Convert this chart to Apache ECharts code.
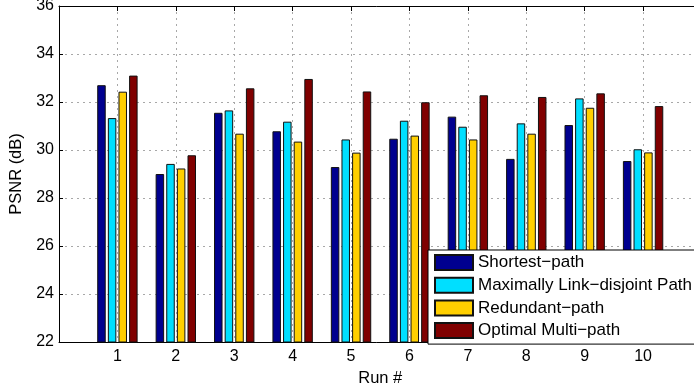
<!DOCTYPE html>
<html>
<head>
<meta charset="utf-8">
<title>PSNR per run</title>
<script src="https://cdn.jsdelivr.net/npm/echarts@6/dist/echarts.min.js"></script>
<style>
  html, body { margin: 0; padding: 0; background: #fff; overflow: hidden; }
  #chart { width: 694px; height: 387px; }
</style>
</head>
<body>
<div id="chart"></div>
<script>
// Run numbers on the x axis
const runs = [1, 2, 3, 4, 5, 6, 7, 8, 9, 10];

// PSNR (dB) per run for each routing scheme
const shortestPath   = [32.7, 29.0, 31.55, 30.78, 29.29, 30.47, 31.39, 29.63, 31.04, 29.54];
const linkDisjoint   = [31.33, 29.42, 31.65, 31.18, 30.44, 31.22, 30.97, 31.11, 32.15, 30.03];
const redundantPath  = [32.43, 29.23, 30.68, 30.35, 29.89, 30.6, 30.44, 30.68, 31.76, 29.9];
const optimalMulti   = [33.1, 29.78, 32.57, 32.96, 32.44, 31.99, 32.28, 32.21, 32.36, 31.83];

const seriesNames = [
  'Shortest\u2212path',
  'Maximally Link\u2212disjoint Path',
  'Redundant\u2212path',
  'Optimal Multi\u2212path'
];
const seriesColors = ['#00008f', '#00dfff', '#ffcf00', '#800000'];
const seriesValues = [shortestPath, linkDisjoint, redundantPath, optimalMulti];

// y-axis ticks
const yMin = 22, yMax = 36, yStep = 2;

const FONT = '"Liberation Sans", Arial, Helvetica, sans-serif';

const chart = echarts.init(document.getElementById('chart'), null, { renderer: 'canvas' });

const series = seriesNames.map((name, i) => ({
  name: name,
  type: 'bar',
  xAxisIndex: 0,
  barWidth: 8.5,
  barGap: '25%',
  data: runs.map((r, k) => [r, seriesValues[i][k]]),
  itemStyle: {
    color: seriesColors[i],
    borderColor: '#111',
    borderWidth: 1
  },
  emphasis: { disabled: true },
  animation: false
}));

const dotted = { color: '#a8a8a8', width: 1, type: [2, 4] };

chart.setOption({
  backgroundColor: '#fff',
  animation: false,
  // the plot box runs a little past the right edge of the canvas
  grid: {
    left: 59,
    top: 6,
    width: 642.5,
    height: 336,
    containLabel: false,
    outerBoundsMode: 'none'
  },
  xAxis: [
    {
      type: 'value',
      position: 'bottom',
      min: 0,
      max: 11,
      interval: 1,
      name: 'Run #',
      nameLocation: 'middle',
      nameGap: 23,
      nameTextStyle: { color: '#000', fontSize: 16.5, fontFamily: FONT },
      axisLine: { show: true, onZero: false, lineStyle: { color: '#000', width: 1 } },
      axisTick: { show: false },
      axisLabel: {
        color: '#000',
        fontSize: 16,
        fontFamily: FONT,
        margin: 7,
        formatter: v => (runs.indexOf(v) >= 0 ? String(v) : '')
      },
      splitLine: { show: true, lineStyle: dotted }
    },
    {
      type: 'value',
      position: 'top',
      min: 0,
      max: 11,
      interval: 1,
      axisLine: { show: true, onZero: false, lineStyle: { color: '#000', width: 1 } },
      axisTick: { show: true, inside: true, length: 5, lineStyle: { color: '#000' } },
      axisLabel: { show: false },
      splitLine: { show: false }
    }
  ],
  yAxis: [
    {
      type: 'value',
      min: yMin,
      max: yMax,
      interval: yStep,
      name: 'PSNR (dB)',
      nameLocation: 'middle',
      nameGap: 27,
      nameRotate: 90,
      nameTextStyle: { color: '#000', fontSize: 16.5, fontFamily: FONT },
      axisLine: { show: true, lineStyle: { color: '#000', width: 1 } },
      axisTick: { show: true, inside: true, length: 4, lineStyle: { color: '#000' } },
      axisLabel: { color: '#000', fontSize: 16, fontFamily: FONT, margin: 5 },
      splitLine: { show: true, lineStyle: dotted }
    }
  ],
  legend: {
    orient: 'vertical',
    left: 428,
    top: 250,
    icon: 'rect',
    itemWidth: 38,
    itemHeight: 15,
    itemGap: 5.7,
    padding: [4, 12, 5, 6],
    backgroundColor: '#fff',
    borderColor: '#000',
    borderWidth: 1,
    selectedMode: false,
    textStyle: { color: '#000', fontSize: 17, fontFamily: FONT, lineHeight: 15 },
    data: seriesNames
  },
  series: series
});
</script>
</body>
</html>
